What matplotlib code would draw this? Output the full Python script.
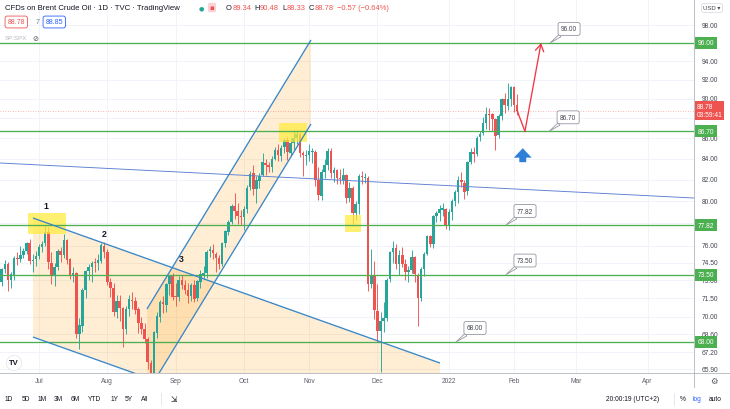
import numpy as np
import pandas as pd
import matplotlib
matplotlib.use("Agg")
import matplotlib.pyplot as plt
from matplotlib.patches import Polygon, Rectangle, FancyArrowPatch
from matplotlib.lines import Line2D
from matplotlib.ticker import FixedLocator, NullLocator, NullFormatter

plt.rcParams['font.family'] = ['Liberation Sans', 'DejaVu Sans']

# ---------------- data (TVC:UKOIL daily, 14 Jun 2021 - 2 Feb 2022) ----------------
dates = pd.bdate_range('2021-06-14', '2022-02-02')

opens = [
    72.70, 72.85, 73.95, 74.40, 73.05, 73.40, 74.90, 74.80, 75.20, 75.55, 76.20, 74.70, 74.80,
    75.10, 75.85, 76.20, 77.20, 74.50, 73.40, 74.10, 75.50, 75.20, 76.50, 74.80, 73.50, 73.60, 68.60, 69.30, 72.20, 73.80, 74.10, 74.50, 74.50, 74.70, 76.00,
    75.40, 72.90, 72.40, 70.40, 71.30, 70.70, 69.00, 70.60, 71.40, 71.30, 70.60, 69.50, 69.00, 68.20, 66.40, 65.20, 68.70, 70.00, 71.20, 71.00, 72.70, 73.40,
    71.60, 71.60, 73.00, 72.60, 72.20, 71.70, 72.60, 71.50, 72.90, 73.50, 73.60, 75.50, 75.60, 75.30, 74.90, 74.40, 76.20, 77.20, 78.10, 79.50, 79.10, 78.60,
    78.50, 79.30, 81.30, 82.60, 81.10, 81.90, 82.40, 83.60, 83.40, 83.20, 84.00, 84.90, 84.30, 85.10, 85.80, 84.60, 85.50, 86.00, 86.40, 84.60, 84.30,
    84.40, 84.70, 84.70, 82.00, 80.50, 82.70, 83.40, 84.80, 82.60, 82.90, 82.20, 82.00, 82.40, 80.30, 81.20, 78.90, 79.70, 82.30, 82.20, 82.20, 72.70, 73.40,
    70.50, 68.90, 69.70, 69.90, 73.10, 75.40, 75.80, 74.40, 75.20, 74.40, 73.70, 73.90, 75.00, 73.50, 71.50, 74.00, 75.30, 76.80, 76.10, 78.60, 78.90, 79.20, 79.30,
    77.80, 79.00, 80.00, 80.80, 82.00, 81.70, 80.90, 83.70, 84.70, 84.50, 86.10, 86.50, 87.50, 88.40, 88.40, 87.90, 86.30, 88.20, 90.00, 89.30, 90.00,
    91.20, 89.34,
]
highs = [
    73.00, 74.05, 74.75, 74.60, 73.75, 75.10, 75.40, 76.00, 75.80, 76.30, 76.60, 75.30, 75.50,
    76.10, 76.40, 77.84, 77.60, 75.40, 74.50, 75.70, 75.90, 77.00, 76.60, 74.90, 74.10, 73.70, 69.90, 72.40, 73.90, 74.40, 74.70, 74.90, 75.30, 76.20, 76.30,
    75.70, 73.20, 72.80, 71.80, 71.80, 70.80, 70.90, 71.80, 72.00, 71.60, 70.80, 70.00, 69.50, 68.40, 66.60, 68.90, 70.40, 71.40, 71.70, 72.80, 73.50, 73.60,
    72.80, 73.40, 73.50, 73.00, 72.80, 72.80, 73.00, 73.00, 73.90, 74.20, 75.60, 76.00, 76.10, 75.40, 75.20, 76.30, 77.40, 78.30, 79.70, 80.75, 79.80, 79.20,
    79.50, 81.50, 82.80, 83.40, 82.30, 82.60, 84.60, 84.00, 83.70, 84.30, 85.10, 85.40, 85.30, 86.00, 86.10, 86.00, 86.70, 86.70, 86.50, 84.80, 84.90,
    85.40, 85.00, 84.90, 83.20, 83.00, 84.00, 85.00, 85.00, 83.20, 83.00, 83.00, 83.10, 82.50, 81.80, 81.40, 80.00, 82.50, 82.80, 82.60, 82.30, 75.70, 74.70,
    72.70, 70.40, 71.20, 73.20, 75.50, 76.40, 76.10, 75.60, 75.90, 74.80, 74.20, 75.60, 75.10, 73.60, 74.10, 75.40, 76.90, 76.90, 78.70, 79.10, 79.60, 79.80, 79.40,
    79.30, 80.20, 81.00, 82.30, 82.70, 82.00, 83.80, 85.00, 85.10, 86.20, 86.70, 88.10, 89.20, 89.10, 88.50, 88.00, 88.40, 90.10, 90.60, 91.70, 91.30,
    91.30, 90.48,
]
lows = [
    72.10, 72.50, 73.60, 72.10, 72.35, 73.00, 74.30, 74.60, 74.90, 75.30, 74.40, 73.70, 74.20,
    74.80, 75.40, 76.00, 74.00, 72.70, 72.50, 73.90, 74.60, 74.90, 74.40, 73.10, 72.90, 68.30, 67.45, 68.80, 71.50, 73.00, 72.90, 73.70, 73.90, 74.50, 74.90,
    72.60, 71.60, 70.10, 69.90, 69.70, 67.60, 68.60, 70.10, 70.60, 70.20, 68.70, 68.60, 67.90, 65.90, 64.60, 65.00, 68.30, 69.60, 70.30, 70.40, 71.80, 71.40,
    70.90, 71.30, 72.30, 71.90, 71.10, 71.30, 71.20, 71.30, 72.40, 73.10, 73.20, 75.00, 74.80, 73.70, 74.00, 74.20, 75.90, 76.90, 77.90, 78.40, 77.90, 77.80,
    77.40, 78.90, 81.00, 80.60, 79.80, 81.20, 82.30, 82.40, 82.70, 82.70, 83.90, 83.80, 83.80, 84.60, 83.90, 84.40, 84.90, 85.40, 84.20, 82.30, 83.40,
    83.80, 83.60, 81.40, 80.10, 80.10, 82.20, 82.90, 82.20, 81.80, 81.60, 81.60, 81.60, 79.80, 79.90, 77.90, 78.30, 78.80, 81.60, 81.70, 72.10, 72.40, 69.80,
    68.00, 65.72, 68.80, 69.70, 72.90, 74.50, 74.00, 73.50, 74.10, 73.00, 72.90, 73.60, 72.90, 69.28, 71.30, 73.40, 75.20, 75.90, 75.80, 78.10, 78.20, 78.60, 77.50,
    77.40, 78.30, 79.50, 79.80, 81.30, 80.20, 80.60, 83.50, 83.70, 84.30, 85.70, 86.30, 86.90, 86.80, 86.70, 84.90, 86.00, 87.80, 88.50, 88.90, 89.30,
    88.70, 88.33,
]
closes = [
    72.86, 73.99, 74.39, 73.08, 73.51, 74.90, 74.81, 75.19, 75.56, 76.18, 74.68, 74.76, 75.13,
    75.84, 76.17, 77.16, 74.53, 73.43, 74.12, 75.55, 75.16, 76.49, 74.76, 73.47, 73.59, 68.62, 69.35, 72.23, 73.79, 74.10, 74.50, 74.48, 74.74, 76.05, 75.41,
    72.89, 72.41, 70.38, 71.29, 70.70, 69.04, 70.63, 71.44, 71.31, 70.59, 69.51, 69.03, 68.23, 66.45, 65.18, 68.75, 70.05, 71.25, 71.07, 72.70, 73.41, 71.63,
    71.59, 73.03, 72.61, 72.22, 71.69, 72.60, 71.45, 72.92, 73.51, 73.60, 75.46, 75.67, 75.34, 74.92, 74.36, 76.19, 77.25, 78.09, 79.53, 79.09, 78.64, 78.52,
    79.28, 81.26, 82.56, 81.08, 81.95, 82.39, 83.65, 83.42, 83.18, 84.00, 84.86, 84.33, 85.08, 85.82, 84.61, 85.53, 85.99, 86.40, 84.58, 84.32, 84.38,
    84.71, 84.72, 81.99, 80.54, 82.74, 83.43, 84.78, 82.64, 82.87, 82.17, 82.05, 82.43, 80.28, 81.24, 78.89, 79.70, 82.31, 82.25, 82.22, 72.72, 73.44, 70.57,
    68.87, 69.67, 69.88, 73.08, 75.44, 75.82, 74.42, 75.15, 74.39, 73.70, 73.88, 75.02, 73.52, 71.52, 73.98, 75.29, 76.85, 76.14, 78.60, 78.94, 79.23, 79.32, 77.78,
    78.98, 80.00, 80.80, 81.99, 81.75, 80.87, 83.72, 84.67, 84.47, 86.06, 86.48, 87.51, 88.44, 88.38, 87.89, 86.27, 88.20, 89.96, 89.34, 90.03, 91.21,
    89.35, 88.78,
]

price_levels = [96.00, 86.70, 77.82, 73.50, 68.00]
price_ticks = [98.00, 94.00, 92.00, 90.00, 86.00, 84.00, 82.00, 80.00, 76.00,
               74.50, 73.00, 71.50, 70.00, 68.60, 67.20, 65.90]
grid_ticks = [98.00, 96.00, 94.00, 92.00, 90.00, 88.00, 86.00, 84.00, 82.00, 80.00,
              78.00, 76.00, 74.50, 73.00, 71.50, 70.00, 68.60, 67.20, 65.90]
last_price = 88.78
countdown = "03:59:41"
header_title = "CFDs on Brent Crude Oil \u00b7 1D \u00b7 TVC \u00b7 TradingView"
ohlc_labels = ["O", "H", "L", "C"]
ohlc_values = ["89.34", "90.48", "88.33", "88.78"]
change_text = "\u22120.57 (\u22120.64%)"
bid, spread, ask = "88.78", "7", "88.85"
range_buttons = ["1D", "5D", "1M", "3M", "6M", "YTD", "1Y", "5Y", "All"]
clock_text = "20:00:19 (UTC+2)"

# drawings: (bars after 1 Jul 2021, price)
desc_upper = [(-1.93, 78.45), (129.15, 66.37)]
desc_lower_start = 68.39
asc_upper = [(34.78, 70.64), (87.60, 96.33)]
asc_lower_start = 64.12
trend_line = [(-12.6, 83.59), (211.0, 80.28)]
yellow_boxes = [(-3.54, 8.70, 77.02, 78.90), (77.29, 86.31, 85.64, 87.54), (98.55, 103.70, 77.20, 78.72)]
wave_labels = ["1", "2", "3"]
wave_pos = [(2.25, 79.6), (20.93, 77.1), (45.73, 74.9)]
forecast = [(154.0, 88.78), (156.5, 86.70), (161.7, 96.00)]
up_arrow = (155.8, 83.4, 85.3)
callouts = [(164.6, 96.00), (164.3, 86.70), (150.4, 77.82), (150.4, 73.50), (134.3, 68.00)]

# ---------------- figure ----------------
W, H = 730, 410
UP, DOWN = '#26a69a', '#ef5350'
GREEN = '#4caf50'
BLUE = '#3a87c8'
TXT = '#131722'
AX_TXT = '#434651'

fig = plt.figure(figsize=(W / 100, H / 100), dpi=100)
fig.patch.set_facecolor('white')
chart_r, chart_b = 694, 373.5
ax = fig.add_axes([0, 1 - chart_b / H, chart_r / W, chart_b / H])
ax.set_yscale('log')
ylim = (65.65, 100.99)
x = np.arange(len(dates))
j0 = int(np.where(dates == pd.Timestamp('2021-07-01'))[0][0])
xlim = (j0 - 12.56, j0 + 210.95)

# month ticks (trading calendar extended into the future)
cal = dates.append(pd.bdate_range('2022-02-03', '2022-05-31'))
pos, labs = [], []
for k in range(1, len(cal)):
    if cal[k].month != cal[k - 1].month and k < xlim[1] - 4:
        pos.append(k)
        labs.append(str(cal[k].year) if cal[k].month == 1 else cal[k].strftime('%b'))
ax.set_xticks(pos)
ax.set_xticklabels(labs)
ax.yaxis.set_major_locator(FixedLocator(grid_ticks))
ax.yaxis.set_minor_locator(NullLocator())
ax.yaxis.set_major_formatter(NullFormatter())
ax.yaxis.set_minor_formatter(NullFormatter())
ax.set_xlim(*xlim)
ax.set_ylim(*ylim)
ax.tick_params(axis='x', length=0, pad=3, labelsize=4.8, labelcolor='#5d606b')
ax.tick_params(axis='y', length=0, left=False, labelleft=False)
ax.grid(True, color='#f0f3fa', lw=0.7, zorder=0)
ax.set_axisbelow(True)
for s in ax.spines.values():
    s.set_visible(False)

# channel fills
def channel(upper, lower_start, color_alpha):
    (xa, pa), (xb, pb) = upper
    ratio = lower_start / pa
    verts = [(j0 + xa, pa), (j0 + xb, pb), (j0 + xb, pb * ratio), (j0 + xa, lower_start)]
    ax.add_patch(Polygon(verts, closed=True, fc='#ff9800', alpha=color_alpha, ec='none', zorder=1))
    ax.plot([j0 + xa, j0 + xb], [pa, pb], color=BLUE, lw=0.95, zorder=4, solid_capstyle='butt')
    ax.plot([j0 + xa, j0 + xb], [lower_start, pb * ratio], color=BLUE, lw=0.95, zorder=4, solid_capstyle='butt')

channel(desc_upper, desc_lower_start, 0.17)
channel(asc_upper, asc_lower_start, 0.17)

# candles
o = np.array(opens); h = np.array(highs); l = np.array(lows); c = np.array(closes)
cols = np.where(c >= o, UP, DOWN)
ax.vlines(x, l, h, colors=cols, lw=0.65, zorder=2)
bot = np.minimum(o, c)
top = np.maximum(o, c)
hgt = np.maximum(top - bot, 0.08)
ax.bar(x, hgt, bottom=bot, width=0.82, color=cols, lw=0, zorder=2.5)

# yellow boxes
for (xa, xb, pa, pb) in yellow_boxes:
    ax.add_patch(Rectangle((j0 + xa, pa), xb - xa, pb - pa, fc='#ffeb3b', alpha=0.72, ec='none', zorder=3))

# horizontal levels
for lv in price_levels:
    ax.axhline(lv, color=GREEN, lw=0.95, zorder=3.5)

# long trend line
ax.plot([j0 + trend_line[0][0], j0 + trend_line[1][0]], [trend_line[0][1], trend_line[1][1]],
        color='#5b7fd1', lw=0.65, zorder=3.6)

# last price line
ax.axhline(last_price, color=DOWN, lw=0.6, ls=(0, (1, 2)), alpha=0.55, zorder=2)

# wave labels
for t, (xi, pi) in zip(wave_labels, wave_pos):
    ax.text(j0 + xi, pi, t, ha='center', va='center', fontsize=6.3, fontweight='bold', color=TXT, zorder=6)

# forecast path
ax.plot([j0 + forecast[0][0], j0 + forecast[1][0]], [forecast[0][1], forecast[1][1]],
        color='#f23645', lw=0.95, zorder=5)
ax.annotate('', xy=(j0 + forecast[2][0], forecast[2][1]), xytext=(j0 + forecast[1][0], forecast[1][1]),
            arrowprops=dict(arrowstyle='->,head_length=0.5,head_width=0.3', color='#f23645', lw=0.95,
                            shrinkA=0, shrinkB=0, mutation_scale=10), zorder=5)

# blue up arrow
ax.add_patch(FancyArrowPatch((j0 + up_arrow[0], up_arrow[1]), (j0 + up_arrow[0], up_arrow[2]),
                             arrowstyle='simple,head_length=0.85,head_width=1.6,tail_width=0.62',
                             mutation_scale=8, fc='#2f7fd9', ec='none', zorder=6))

# callouts
for (ci, cp) in callouts:
    ax.annotate(f'{cp:.2f}', xy=(j0 + ci, cp), xytext=(19, 14), textcoords='offset pixels',
                ha='center', va='center', fontsize=4.7, color=AX_TXT, zorder=7,
                bbox=dict(boxstyle='round,pad=0.45,rounding_size=0.3', fc='white', ec='#9598a1', lw=0.6),
                arrowprops=dict(arrowstyle='wedge,tail_width=0.45,shrink_factor=0.5', fc='white',
                                ec='#9598a1', lw=0.6, shrinkA=0, shrinkB=0))

# ---------------- right price scale ----------------
ax2 = fig.add_axes([chart_r / W, 1 - chart_b / H, (W - chart_r) / W, chart_b / H])
ax2.set_yscale('log')
ax2.set_ylim(*ylim)
ax2.set_xlim(0, W - chart_r)
ax2.axis('off')
for t in price_ticks:
    ax2.text(7.5, t, f'{t:.2f}', ha='left', va='center', fontsize=4.8, color=AX_TXT, clip_on=True)
for lv in price_levels:
    ax2.text(4.0, lv, f'{lv:.2f}', ha='left', va='center', fontsize=4.8, color='white', zorder=5,
             bbox=dict(boxstyle='square,pad=0.38', fc=GREEN, ec='none'))
ax2.text(2.5, last_price, f'{last_price:.2f}\n{countdown}', ha='left', va='center', fontsize=4.8,
         color='white', linespacing=1.15, zorder=6,
         bbox=dict(boxstyle='square,pad=0.3', fc='#ef5350', ec='none'))

# frame lines
fig.add_artist(Line2D([chart_r / W, chart_r / W], [1 - 388 / H, 1], color='#b2b5be', lw=0.6))
fig.add_artist(Line2D([0, 1], [1 - chart_b / H, 1 - chart_b / H], color='#b2b5be', lw=0.6))

def P(px, py):
    return (px / W, 1 - py / H)

# USD selector and gear
fig.text(*P(712, 9), 'USD \u25be', fontsize=4.3, ha='center', va='center', color=AX_TXT,
         bbox=dict(boxstyle='round,pad=0.3', fc='white', ec='#d1d4dc', lw=0.5))
fig.text(*P(714, 381), '\u2699', fontsize=6, ha='center', va='center', color='#50535e',
         family='DejaVu Sans')

# ---------------- header ----------------
fig.canvas.draw()
rend = fig.canvas.get_renderer()
fig.text(*P(5, 9), header_title, fontsize=5.6, color=TXT, va='center', ha='left')
fig.text(*P(201, 8.5), '\u25cf', fontsize=4.5, color='#26a69a', ha='center', va='center', family='DejaVu Sans')
fig.text(*P(212, 8.5), '\u25aa', fontsize=5, color='#ef5350', ha='center', va='center', family='DejaVu Sans',
         bbox=dict(boxstyle='round,pad=0.25', fc='#fbd3d6', ec='none'))
xc = 226
pieces = []
for lab, val in zip(ohlc_labels, ohlc_values):
    pieces.append((lab, TXT, 0.3))
    pieces.append((val, DOWN, 3.2))
pieces.append((change_text, DOWN, 0))
for s, col, gap in pieces:
    tt = fig.text(xc / W, 1 - 9 / H, s, fontsize=5.4, color=col, va='center', ha='left')
    bb = tt.get_window_extent(rend)
    xc = bb.x1 + gap

fig.text(*P(7.5, 23), bid, fontsize=5.0, color=DOWN, va='center', ha='left',
         bbox=dict(boxstyle='round,pad=0.35,rounding_size=0.3', fc='white', ec=DOWN, lw=0.6))
fig.text(*P(36, 23), spread, fontsize=5.0, color='#787b86', va='center', ha='left')
fig.text(*P(45.5, 23), ask, fontsize=5.0, color='#2962ff', va='center', ha='left',
         bbox=dict(boxstyle='round,pad=0.35,rounding_size=0.3', fc='white', ec='#2962ff', lw=0.6))
fig.text(*P(5, 39), 'SP:SPX', fontsize=4.4, color='#b2b5be', va='center', ha='left')
fig.text(*P(35, 39), '\u2298', fontsize=5.2, color='#50535e', va='center', ha='center', family='DejaVu Sans')

# TradingView logo
fig.text(*P(14, 364), 'TV', fontsize=5.5, fontweight='bold', color=TXT, ha='center', va='center',
         bbox=dict(boxstyle='circle,pad=0.35', fc='white', ec='#e0e3eb', lw=0.5), zorder=10)

# ---------------- bottom toolbar ----------------
btn_x = [9, 26, 42, 58, 75, 94, 115, 129, 145]
for bx, b in zip(btn_x, range_buttons):
    fig.text(*P(bx, 400), b, fontsize=4.8, color=TXT, ha='center', va='center')
fig.add_artist(Line2D([161 / W, 161 / W], [1 - 394 / H, 1 - 406 / H], color='#e0e3eb', lw=0.6))
fig.text(*P(174, 400), '\u21f2', fontsize=5.5, color=TXT, ha='center', va='center', family='DejaVu Sans')
fig.text(*P(633, 400), clock_text, fontsize=4.8, color=TXT, ha='center', va='center')
fig.add_artist(Line2D([674 / W, 674 / W], [1 - 394 / H, 1 - 406 / H], color='#e0e3eb', lw=0.6))
fig.text(*P(683, 400), '%', fontsize=4.8, color=TXT, ha='center', va='center')
fig.text(*P(697, 400), 'log', fontsize=4.8, color='#2962ff', ha='center', va='center')
fig.text(*P(715, 400), 'auto', fontsize=4.8, color=TXT, ha='center', va='center')

fig.savefig('out.png', dpi=100, facecolor='white')
